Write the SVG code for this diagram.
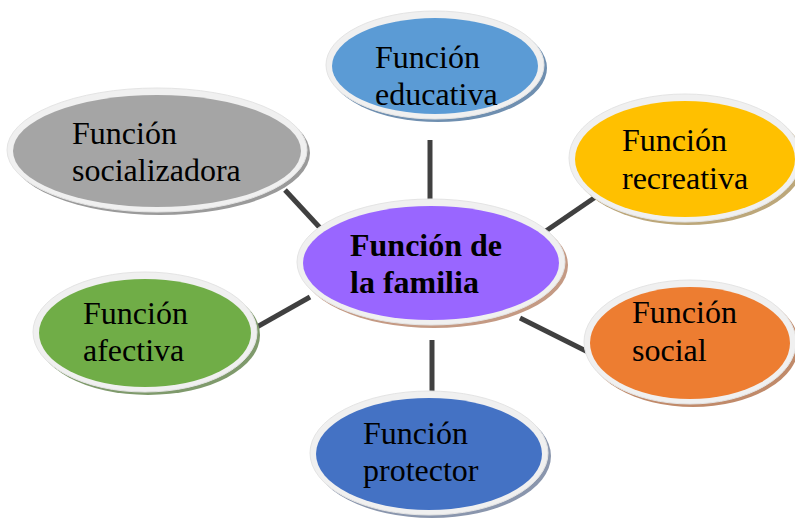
<svg xmlns="http://www.w3.org/2000/svg" width="795" height="522" viewBox="0 0 795 522">
<style>
.ring{fill:#f0f0f0;stroke:#e4e4e4;stroke-width:1}
.t{font-family:"Liberation Serif","Times New Roman",serif;font-size:32px;fill:#000}
.b{font-weight:bold}
.c{stroke:#404040;stroke-width:5;fill:none}
</style>
<rect width="795" height="522" fill="#fff"/>
<g id="connectors">
<line class="c" x1="430" y1="140" x2="430" y2="200"/>
<line class="c" x1="285" y1="190" x2="322" y2="230"/>
<line class="c" x1="540" y1="235" x2="597" y2="196"/>
<line class="c" x1="255" y1="328" x2="310" y2="297"/>
<line class="c" x1="520" y1="318" x2="588" y2="352"/>
<line class="c" x1="432" y1="340" x2="432" y2="393"/>
</g>
<g id="central">
<ellipse cx="434" cy="265" rx="134" ry="63" fill="#c49a84"/>
<ellipse class="ring" cx="431" cy="262" rx="134" ry="63"/>
<ellipse cx="431" cy="263" rx="128" ry="57" fill="#9966ff"/>
<text class="t b" x="350" y="256">Función de</text>
<text class="t b" x="350" y="293">la familia</text>
</g>
<g id="educativa">
<ellipse cx="438" cy="68" rx="109" ry="54" fill="#6f8fb0"/>
<ellipse class="ring" cx="435" cy="65" rx="109" ry="54"/>
<ellipse cx="435" cy="66" rx="103" ry="48" fill="#5b9bd5"/>
<text class="t" x="375" y="68">Función</text>
<text class="t" x="375" y="105">educativa</text>
</g>
<g id="socializadora">
<ellipse cx="160" cy="153" rx="150" ry="62" fill="#9a9a9a"/>
<ellipse class="ring" cx="157" cy="150" rx="150" ry="62"/>
<ellipse cx="157" cy="151" rx="144" ry="56" fill="#a5a5a5"/>
<text class="t" x="72" y="144">Función</text>
<text class="t" x="72" y="181">socializadora</text>
</g>
<g id="recreativa">
<ellipse cx="688" cy="161" rx="116" ry="64" fill="#bca77a"/>
<ellipse class="ring" cx="685" cy="158" rx="116" ry="64"/>
<ellipse cx="685" cy="159" rx="110" ry="58" fill="#ffc000"/>
<text class="t" x="622" y="151">Función</text>
<text class="t" x="622" y="189">recreativa</text>
</g>
<g id="afectiva">
<ellipse cx="148" cy="335" rx="112" ry="60" fill="#7f9a6c"/>
<ellipse class="ring" cx="145" cy="332" rx="112" ry="60"/>
<ellipse cx="145" cy="333" rx="106" ry="54" fill="#70ad47"/>
<text class="t" x="83" y="324">Función</text>
<text class="t" x="83" y="361">afectiva</text>
</g>
<g id="social">
<ellipse cx="693" cy="345" rx="106" ry="62" fill="#c08a6a"/>
<ellipse class="ring" cx="690" cy="342" rx="106" ry="62"/>
<ellipse cx="690" cy="343" rx="100" ry="56" fill="#ed7d31"/>
<text class="t" x="632" y="323">Función</text>
<text class="t" x="632" y="361">social</text>
</g>
<g id="protector">
<ellipse cx="432" cy="456" rx="119" ry="62" fill="#8a96ad"/>
<ellipse class="ring" cx="429" cy="453" rx="119" ry="62"/>
<ellipse cx="429" cy="454" rx="113" ry="56" fill="#4472c4"/>
<text class="t" x="363" y="444">Función</text>
<text class="t" x="363" y="481">protector</text>
</g>
</svg>
